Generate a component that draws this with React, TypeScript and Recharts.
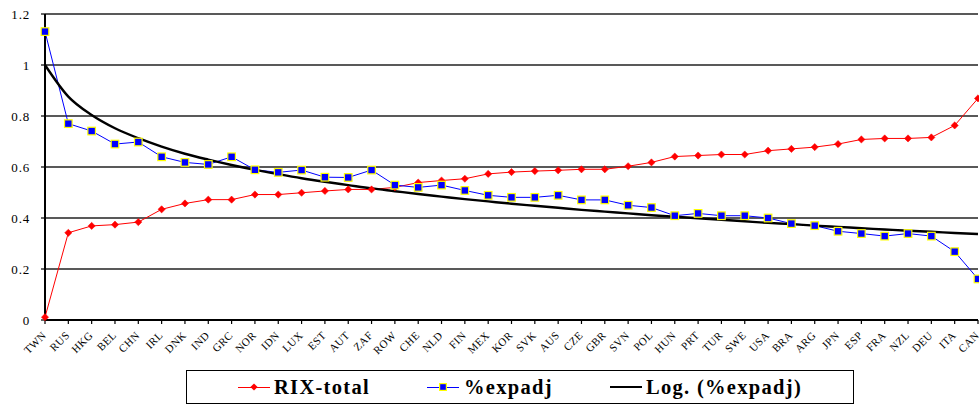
import React from 'react'
import { LineChart, Line, XAxis, YAxis, CartesianGrid, Legend } from 'recharts'

const categories = ['TWN', 'RUS', 'HKG', 'BEL', 'CHN', 'IRL', 'DNK', 'IND', 'GRC', 'NOR', 'IDN', 'LUX', 'EST', 'AUT', 'ZAF', 'ROW', 'CHE', 'NLD', 'FIN', 'MEX', 'KOR', 'SVK', 'AUS', 'CZE', 'GBR', 'SVN', 'POL', 'HUN', 'PRT', 'TUR', 'SWE', 'USA', 'BRA', 'ARG', 'JPN', 'ESP', 'FRA', 'NZL', 'DEU', 'ITA', 'CAN']

const rixTotal = [0.011, 0.342, 0.369, 0.374, 0.384, 0.434, 0.457, 0.472, 0.472, 0.492, 0.492, 0.499, 0.506, 0.512, 0.512, 0.520, 0.539, 0.547, 0.554, 0.573, 0.580, 0.584, 0.587, 0.591, 0.591, 0.603, 0.618, 0.641, 0.645, 0.649, 0.649, 0.664, 0.671, 0.678, 0.690, 0.708, 0.712, 0.712, 0.716, 0.763, 0.869]

const expadj = [1.131, 0.770, 0.741, 0.690, 0.698, 0.640, 0.618, 0.610, 0.640, 0.589, 0.579, 0.588, 0.560, 0.559, 0.588, 0.529, 0.520, 0.529, 0.508, 0.489, 0.481, 0.481, 0.489, 0.471, 0.471, 0.450, 0.441, 0.409, 0.418, 0.409, 0.409, 0.400, 0.378, 0.370, 0.348, 0.339, 0.329, 0.339, 0.329, 0.268, 0.161]

// trend curve
const logTrend = [1.000, 0.876, 0.804, 0.752, 0.713, 0.680, 0.652, 0.629, 0.608, 0.589, 0.572, 0.556, 0.542, 0.529, 0.516, 0.505, 0.494, 0.484, 0.474, 0.465, 0.456, 0.448, 0.440, 0.432, 0.425, 0.418, 0.411, 0.405, 0.399, 0.393, 0.387, 0.381, 0.376, 0.370, 0.365, 0.360, 0.355, 0.350, 0.346, 0.341, 0.337]

const yTicks = [0, 0.2, 0.4, 0.6, 0.8, 1, 1.2]

const FONT = '"Liberation Serif", "Times New Roman", serif'

const chartData = categories.map((c, i) => ({
  name: c,
  rix: rixTotal[i],
  exp: expadj[i],
  trend: logTrend[i],
}))

function XTick(props: any) {
  const { x, y, payload } = props
  return (
    <g transform={`translate(${x + 2},${y + 10})`}>
      <text x={0} y={0} textAnchor="end" transform="rotate(-45)" fontFamily={FONT} fontSize={11} fill="#000" style={{ letterSpacing: '0.4px' }}>
        {payload.value}
      </text>
    </g>
  )
}

function Diamond(props: any) {
  const { cx, cy } = props
  if (cx == null || cy == null) return null
  return <path d={`M${cx},${cy - 3.6}L${cx + 3.6},${cy}L${cx},${cy + 3.6}L${cx - 3.6},${cy}Z`} fill="#ff0000" stroke="#ff0000" strokeWidth={0.5} />
}

function Square(props: any) {
  const { cx, cy } = props
  if (cx == null || cy == null) return null
  return <rect x={cx - 3.8} y={cy - 3.8} width={7.6} height={7.6} fill="#0000ff" stroke="#ffff00" strokeWidth={1.2} />
}

function LegendBox() {
  const txt: React.CSSProperties = {
    position: 'absolute', top: 4, fontFamily: FONT, fontWeight: 'bold', fontSize: 20.5,
    letterSpacing: '1.3px', lineHeight: '24px', color: '#000', whiteSpace: 'nowrap',
  }
  const ln = (left: number, color: string, h: number): React.CSSProperties => ({
    position: 'absolute', left, top: 16 - h / 2, width: 32, height: h, background: color,
  })
  return (
    <div style={{ position: 'relative', width: 668, height: 34, border: '1px solid #000', boxSizing: 'border-box', background: '#fff' }}>
      <div style={ln(51, '#ff0000', 1)} />
      <svg style={{ position: 'absolute', left: 63, top: 12 }} width={8} height={8}>
        <path d="M4,0.4L7.6,4L4,7.6L0.4,4Z" fill="#ff0000" />
      </svg>
      <span style={{ ...txt, left: 87 }}>RIX-total</span>
      <div style={ln(240, '#0000ff', 1)} />
      <svg style={{ position: 'absolute', left: 252, top: 12 }} width={8} height={8}>
        <rect x={0.6} y={0.6} width={6.8} height={6.8} fill="#0000ff" stroke="#ffff00" strokeWidth={1.2} />
      </svg>
      <span style={{ ...txt, left: 277 }}>%expadj</span>
      <div style={ln(423, '#000', 2)} />
      <span style={{ ...txt, left: 459 }}>Log. (%expadj)</span>
    </div>
  )
}

export default function App() {
  return (
    <div style={{ position: 'absolute', left: 0, top: 0, width: 979, height: 404, background: '#fff', overflow: 'hidden' }}>
      <LineChart width={979} height={404} data={chartData} margin={{ top: 14, right: 1, left: 0, bottom: 0 }}>
        <CartesianGrid vertical={false} stroke="#222" strokeWidth={1.4} />
        <XAxis
          dataKey="name" interval={0} height={50} tick={<XTick />}
          axisLine={{ stroke: '#000', strokeWidth: 2 }} tickLine={{ stroke: '#000', strokeWidth: 1.2 }}
          tickSize={4} tickMargin={2}
        />
        <YAxis
          width={45} domain={[0, 1.2]} ticks={yTicks} interval={0}
          axisLine={{ stroke: '#000', strokeWidth: 2 }} tickLine={{ stroke: '#000', strokeWidth: 1.2 }}
          tickSize={4} tickMargin={11}
          tick={{ fontFamily: FONT, fontSize: 13, fill: '#000', letterSpacing: '0.8px' } as any}
        />
        <Legend
          verticalAlign="bottom" height={34}
          wrapperStyle={{ left: 186, width: 668, bottom: 0, height: 34 }}
          content={() => <LegendBox />}
        />
        <Line dataKey="rix" stroke="#ff0000" strokeWidth={1} dot={<Diamond />} isAnimationActive={false} />
        <Line dataKey="exp" stroke="#0000ff" strokeWidth={1} dot={<Square />} isAnimationActive={false} />
        <Line dataKey="trend" type="monotone" stroke="#000" strokeWidth={2.4} dot={false} isAnimationActive={false} />
      </LineChart>
    </div>
  )
}
